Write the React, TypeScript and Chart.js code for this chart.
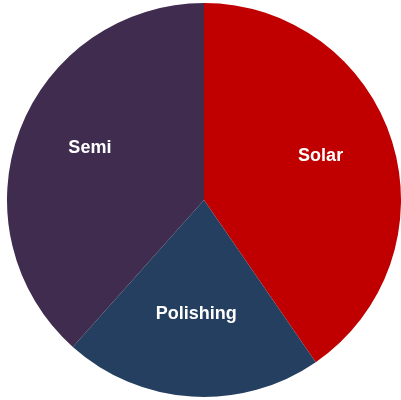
import React, { useEffect, useRef } from "react";
import { Chart, registerables } from "chart.js";

Chart.register(...registerables);

const categories = ["Solar", "Polishing", "Semi"];
const values = [40.4, 21.2, 38.4];
const colors = ["#C00000", "#243F60", "#3F2C4E"];

const labelPlugin = {
  id: "sliceLabels",
  afterDatasetsDraw(chart: any) {
    const ctx = chart.ctx;
    const meta = chart.getDatasetMeta(0);
    ctx.save();
    ctx.fillStyle = "#FFFFFF";
    ctx.font = "bold 18px 'Liberation Sans', Arial, sans-serif";
    ctx.textAlign = "center";
    ctx.textBaseline = "middle";
    meta.data.forEach((arc: any, i: number) => {
      const p = arc.getProps(["x", "y", "startAngle", "endAngle", "outerRadius"], true);
      const mid = (p.startAngle + p.endAngle) / 2;
      const r = p.outerRadius * 0.62;
      ctx.fillText(categories[i], p.x + Math.cos(mid) * r, p.y + Math.sin(mid) * r - 8);
    });
    ctx.restore();
  },
};

export default function App() {
  const ref = useRef<HTMLCanvasElement>(null);
  useEffect(() => {
    if (!ref.current) return;
    const chart = new Chart(ref.current, {
      type: "pie",
      data: {
        labels: categories,
        datasets: [
          {
            data: values,
            backgroundColor: colors,
            borderWidth: 0,
          },
        ],
      },
      options: {
        responsive: false,
        animation: false,
        layout: { padding: { left: 7, right: 0, top: 3, bottom: 3 } },
        plugins: {
          legend: { display: false },
          tooltip: { enabled: false },
        },
      },
      plugins: [labelPlugin],
    });
    return () => chart.destroy();
  }, []);
  return (
    <div style={{ position: "fixed", left: 0, top: 0, width: 401, height: 400, background: "#fff" }}>
      <canvas ref={ref} width={401} height={400} style={{ display: "block", width: 401, height: 400 }} />
    </div>
  );
}
